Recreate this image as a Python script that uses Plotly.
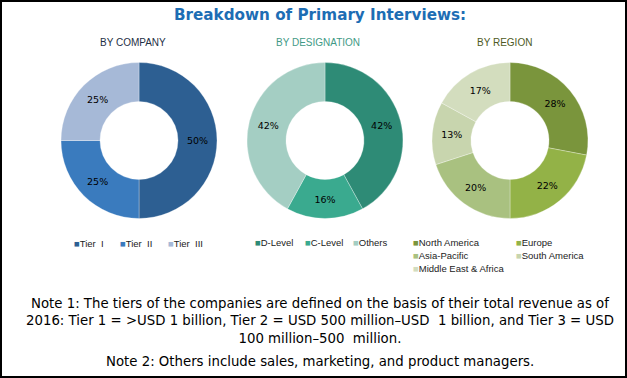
import plotly.graph_objects as go

W, H = 627, 378

company_labels = ["Tier  I", "Tier  II", "Tier  III"]
company_values = [50, 25, 25]
company_colors = ["#2D5F92", "#3A7BBE", "#A6B9D7"]

designation_labels = ["D-Level", "C-Level", "Others"]
designation_values = [42, 16, 42]
designation_colors = ["#2E8B76", "#3AAA8F", "#A4CEC3"]

region_labels = ["North America", "Europe", "Asia-Pacific", "South America", "Middle East & Africa"]
region_values = [28, 22, 20, 13, 17]
region_colors = ["#7A953C", "#93B247", "#A9C180", "#C8D5AE", "#D3DDBE"]

title_text = "Breakdown of Primary Interviews:"
subtitles = ["BY COMPANY", "BY DESIGNATION", "BY REGION"]
note1 = ("Note 1: The tiers of the companies are defined on the basis of their total revenue as of<br>"
         "2016: Tier 1 = &gt;USD 1 billion, Tier 2 = USD 500 million\u2013USD  1 billion, and Tier 3 = USD<br>"
         "100 million\u2013500  million.")
note2 = "Note 2: Others include sales, marketing, and product managers."

fig = go.Figure()

R = 78
centers = [(139, 140.5), (325, 140.5), (510, 140.5)]
data = [(company_labels, company_values, company_colors),
        (designation_labels, designation_values, designation_colors),
        (region_labels, region_values, region_colors)]

for (cx, cy), (labs, vals, cols) in zip(centers, data):
    fig.add_trace(go.Pie(
        labels=labs, values=vals, hole=0.5, sort=False, direction="clockwise",
        rotation=0,
        marker=dict(colors=cols, line=dict(color="rgba(255,255,255,0.5)", width=0.6)),
        texttemplate="%{value}%", textposition="inside",
        insidetextorientation="horizontal",
        textfont=dict(family="DejaVu Sans", size=9.5, color="black"),
        showlegend=False, hoverinfo="label+percent",
        domain=dict(x=[(cx - R) / W, (cx + R) / W],
                    y=[(H - cy - R) / H, (H - cy + R) / H]),
    ))

ann = []
ann.append(dict(text=f"<b>{title_text}</b>", x=320 / W, y=1 - 15 / H,
                font=dict(family="DejaVu Sans", size=15.2, color="#1D6DB4")))
sub_x = [133, 318, 504]
sub_col = ["#1E2F45", "#3F9A86", "#4E5A24"]
for t, x, c in zip(subtitles, sub_x, sub_col):
    ann.append(dict(text=t, x=x / W, y=1 - 42 / H,
                    font=dict(family="Liberation Sans", size=10, color=c)))

def leg(label, color, x, y):
    return dict(text=f"<span style='color:{color}'>\u25A0</span>{label}",
                x=x / W, y=1 - y / H, xanchor="left",
                font=dict(family="Liberation Sans", size=9.5, color="#222222"))

# legend 1
for lab, col, x in zip(company_labels, company_colors, [72, 118, 166]):
    ann.append(leg(lab, col, x, 243))
# legend 2
for lab, col, x in zip(designation_labels, designation_colors, [253, 303, 351]):
    ann.append(leg(lab, col, x, 242))
# legend 3
pos3 = [(411, 242), (514, 242), (411, 255), (514, 255), (411, 268)]
for lab, col, (x, y) in zip(region_labels, region_colors, pos3):
    ann.append(leg(lab, col, x, y))

ann.append(dict(text=note1, x=320 / W, y=1 - 321 / H, align="center",
                font=dict(family="DejaVu Sans", size=13.3, color="black")))
ann.append(dict(text=note2, x=320 / W, y=1 - 361 / H,
                font=dict(family="DejaVu Sans", size=13.3, color="black")))

for a in ann:
    a.update(xref="paper", yref="paper", showarrow=False)
    a.setdefault("xanchor", "center")
    a.setdefault("yanchor", "middle")

fig.update_layout(
    width=W, height=H, margin=dict(l=0, r=0, t=0, b=0),
    paper_bgcolor="white", plot_bgcolor="white",
    annotations=ann,
    shapes=[dict(type="rect", xref="paper", yref="paper", x0=0, x1=1, y0=0, y1=1,
                 line=dict(color="black", width=4))],
)

fig.write_html("out.html", config={"displayModeBar": False},
               post_script="document.body.style.margin='0';document.body.style.overflow='hidden';")
